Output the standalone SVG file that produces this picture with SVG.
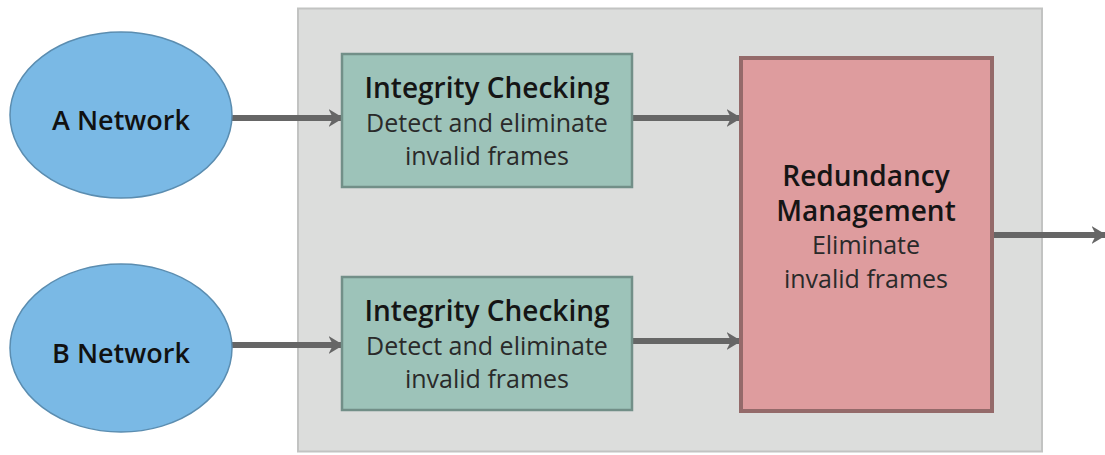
<svg xmlns="http://www.w3.org/2000/svg" width="1105" height="455" viewBox="0 0 1105 455">
  <style>
    .net { fill: #7ab9e5; stroke: #5b8db0; stroke-width: 1.5; }
    .chk { fill: #9dc3b9; stroke: #728f88; stroke-width: 2.5; }
    .red { fill: #de9c9e; stroke: #946a6a; stroke-width: 4; }
    .wire { stroke: #666666; stroke-width: 6; fill: none; marker-end: url(#head); }
    .netlabel { font-family: "Open Sans", "Noto Sans", sans-serif; font-size: 27px; font-weight: 600; fill: #111111; text-anchor: middle; }
    .title { font-family: "Open Sans", "Noto Sans", sans-serif; font-size: 28px; font-weight: 600; fill: #151515; text-anchor: middle; }
    .sub { font-family: "Open Sans", "Noto Sans", sans-serif; font-size: 25px; fill: #2a2a2a; text-anchor: middle; }
  </style>
  <defs>
    <!-- small chevron head, sized relative to the wire width -->
    <marker id="head" viewBox="0 0 10 12" refX="9" refY="6" markerWidth="2.5" markerHeight="3" markerUnits="strokeWidth" orient="auto">
      <path d="M0,0 L10,6 L0,12 L3,6 Z" fill="#666666"/>
    </marker>
  </defs>

  <!-- processing enclosure -->
  <rect id="enclosure" x="298" y="8.5" width="744" height="443" fill="#dcdddc" stroke="#c2c3c2" stroke-width="2"/>

  <g id="connectors">
    <line class="wire" x1="232" y1="118" x2="342" y2="118"/>
    <line class="wire" x1="232" y1="345" x2="342" y2="345"/>
    <line class="wire" x1="632" y1="118" x2="740" y2="118"/>
    <line class="wire" x1="632" y1="341" x2="740" y2="341"/>
    <line class="wire" x1="993" y1="235" x2="1105" y2="235"/>
  </g>

  <g id="a-network">
    <ellipse class="net" cx="121" cy="115" rx="111" ry="83"/>
    <text class="netlabel" x="121" y="130">A Network</text>
  </g>

  <g id="b-network">
    <ellipse class="net" cx="121" cy="348" rx="111" ry="84"/>
    <text class="netlabel" x="121" y="363">B Network</text>
  </g>

  <g id="integrity-a">
    <rect class="chk" x="342" y="54" width="290" height="133"/>
    <text class="title" x="487" y="98">Integrity Checking</text>
    <text class="sub" x="487" y="132">Detect and eliminate</text>
    <text class="sub" x="487" y="165">invalid frames</text>
  </g>

  <g id="integrity-b">
    <rect class="chk" x="342" y="277" width="290" height="133"/>
    <text class="title" x="487" y="321">Integrity Checking</text>
    <text class="sub" x="487" y="355">Detect and eliminate</text>
    <text class="sub" x="487" y="388">invalid frames</text>
  </g>

  <g id="redundancy">
    <rect class="red" x="741" y="58" width="251" height="353"/>
    <text class="title" x="866" y="186">Redundancy</text>
    <text class="title" x="866" y="221">Management</text>
    <text class="sub" x="866" y="254">Eliminate</text>
    <text class="sub" x="866" y="288">invalid frames</text>
  </g>
</svg>
